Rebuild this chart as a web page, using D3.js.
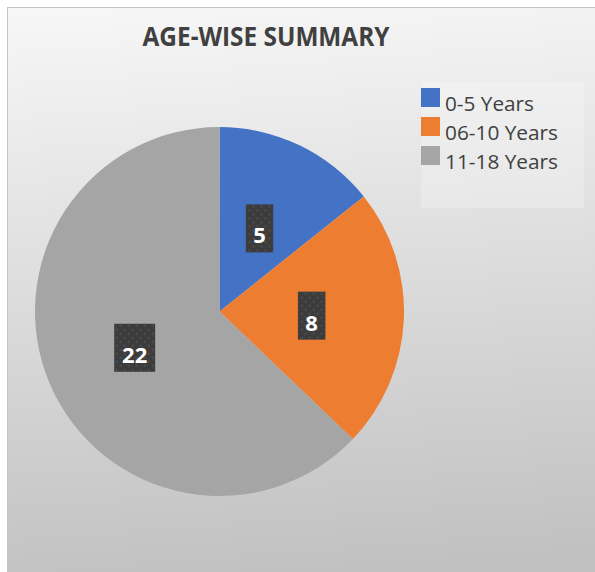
<!DOCTYPE html>
<html>
<head>
<meta charset="utf-8">
<script src="https://cdn.jsdelivr.net/npm/d3@7"></script>
<style>
  html, body { margin: 0; padding: 0; background: #ffffff; }
  svg { display: block; }
</style>
</head>
<body>
<svg id="chart" width="595" height="572"></svg>
<script>
// Age groups and number of children in each
const categories = ["0-5 Years", "06-10 Years", "11-18 Years"];
const counts = [5, 8, 22];
const sliceColors = ["#4472C4", "#ED7D31", "#A5A5A5"];
const chartTitle = "AGE-WISE SUMMARY";

const svg = d3.select("#chart");
const W = 595, H = 572;

const defs = svg.append("defs");

// soft vertical gradient on the chart area
const bg = defs.append("linearGradient")
  .attr("id", "bgGrad").attr("x1", 0).attr("y1", 0).attr("x2", 0.08).attr("y2", 1);
bg.append("stop").attr("offset", "0%").attr("stop-color", "#f7f7f7");
bg.append("stop").attr("offset", "100%").attr("stop-color", "#c1c1c1");

// dotted dark fill for the value labels
const pat = defs.append("pattern")
  .attr("id", "dots").attr("patternUnits", "userSpaceOnUse")
  .attr("width", 8).attr("height", 8);
pat.append("rect").attr("width", 8).attr("height", 8).attr("fill", "#3c3c3c");
pat.append("rect").attr("x", 1).attr("y", 1).attr("width", 2).attr("height", 2).attr("fill", "#4d4d4d");
pat.append("rect").attr("x", 5).attr("y", 5).attr("width", 2).attr("height", 2).attr("fill", "#4d4d4d");

// chart frame
svg.append("rect")
  .attr("x", 7.5).attr("y", 7.5)
  .attr("width", W + 10).attr("height", H + 10)
  .attr("fill", "url(#bgGrad)")
  .attr("stroke", "#c4c4c4").attr("stroke-width", 1);

// title
svg.append("text")
  .attr("x", 266).attr("y", 46)
  .attr("text-anchor", "middle")
  .attr("font-family", "'Open Sans', sans-serif")
  .attr("font-weight", "bold")
  .attr("font-size", 27)
  .attr("fill", "#404040")
  .attr("textLength", 247)
  .attr("lengthAdjust", "spacingAndGlyphs")
  .text(chartTitle);

// pie
const cx = 219.5, cy = 311.5, radius = 184.5;
const pie = d3.pie().sort(null).value(d => d)(counts);
const arc = d3.arc().innerRadius(0).outerRadius(radius);
const labelArc = d3.arc().innerRadius(radius * 0.5).outerRadius(radius * 0.5);

const g = svg.append("g").attr("transform", `translate(${cx},${cy})`);
g.selectAll("path.slice")
  .data(pie)
  .join("path")
  .attr("class", "slice")
  .attr("d", arc)
  .attr("fill", (d, i) => sliceColors[i]);

// value labels
const lab = g.selectAll("g.lbl")
  .data(pie)
  .join("g")
  .attr("class", "lbl")
  .attr("transform", d => {
    const [x, y] = labelArc.centroid(d);
    return `translate(${x},${y})`;
  });

lab.each(function(d) {
  const sel = d3.select(this);
  const txt = String(d.data);
  const w = 14 + txt.length * 13.5;
  sel.append("rect")
    .attr("x", -w / 2).attr("y", -24)
    .attr("width", w).attr("height", 48)
    .attr("fill", "url(#dots)");
  sel.append("text")
    .attr("x", 0).attr("y", 15)
    .attr("text-anchor", "middle")
    .attr("font-family", "'Open Sans', sans-serif")
    .attr("font-weight", "bold")
    .attr("font-size", 22)
    .attr("fill", "#ffffff")
    .text(txt);
});

// legend
const legend = svg.append("g");
legend.append("rect")
  .attr("x", 421).attr("y", 82)
  .attr("width", 163).attr("height", 126)
  .attr("fill", "#ffffff").attr("fill-opacity", 0.22);

const legendWidths = [89, 113, 113];
const items = legend.selectAll("g.item")
  .data(categories)
  .join("g")
  .attr("class", "item")
  .attr("transform", (d, i) => `translate(421,${88 + i * 29})`);
items.append("rect")
  .attr("width", 19).attr("height", 19)
  .attr("fill", (d, i) => sliceColors[i]);
items.append("text")
  .attr("x", 24).attr("y", 23)
  .attr("font-family", "'Open Sans', sans-serif")
  .attr("font-size", 20)
  .attr("fill", "#404040")
  .attr("textLength", (d, i) => legendWidths[i])
  .attr("lengthAdjust", "spacingAndGlyphs")
  .text(d => d);
</script>
</body>
</html>
